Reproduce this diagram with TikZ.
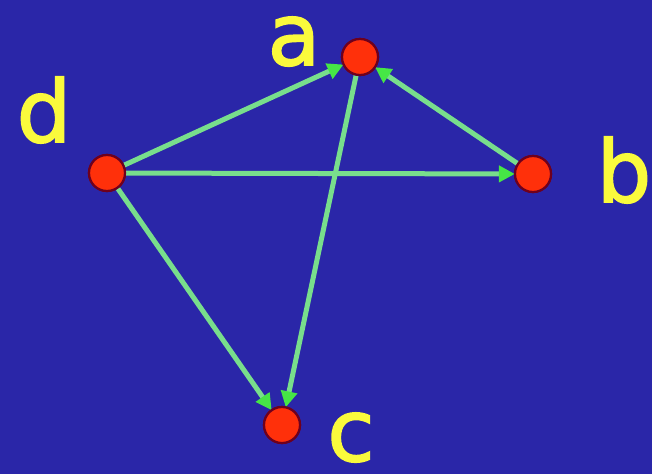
\documentclass[tikz,border=0pt]{standalone}
\usepackage{fontspec}
\setmainfont{DejaVu Sans}
\newfontfamily\lblfont[FakeBold=2]{DejaVu Sans}
\usetikzlibrary{arrows.meta}
\definecolor{bgblue}{RGB}{42,38,168}
\definecolor{nodered}{RGB}{255,48,10}
\definecolor{noderim}{RGB}{110,0,30}
\definecolor{edgegreen}{RGB}{120,222,140}
\definecolor{headgreen}{RGB}{70,230,70}
\definecolor{labelyellow}{RGB}{250,250,60}
\tikzset{
  vertex/.style={circle,fill=nodered,draw=noderim,line width=2.2pt,minimum size=36pt,inner sep=0pt},
  edge/.style={draw=edgegreen,line width=5pt,-{Triangle[length=16pt,width=16pt,color=headgreen]},shorten >=-1pt},
  lbl/.style={text=labelyellow,font=\lblfont\fontsize{86}{96}\selectfont,anchor=base,inner sep=0pt}
}
\begin{document}
\begin{tikzpicture}[x=1pt,y=-1pt]
\fill[bgblue] (0,0) rectangle (652,474);
\useasboundingbox (0,0) rectangle (652,474);
\node[vertex] (a) at (360,57) {};
\node[vertex] (b) at (533,174) {};
\node[vertex] (d) at (107,173) {};
\node[vertex] (c) at (282,425) {};
\node[lbl] (al) at (294,65) {a};
\node[lbl] (dl) at (44,142) {d};
\node[lbl] (bl) at (624,202) {b};
\node[lbl] (cl) at (351,461) {c};
\draw[edge] (d) -- (a);
\draw[edge] (b) -- (a);
\draw[edge] (d) -- (b);
\draw[edge] (d) -- (c);
\draw[edge] (a) -- (c);
\node[vertex] at (a) {};
\node[vertex] at (b) {};
\node[vertex] at (c) {};
\node[vertex] at (d) {};
\end{tikzpicture}
\end{document}
